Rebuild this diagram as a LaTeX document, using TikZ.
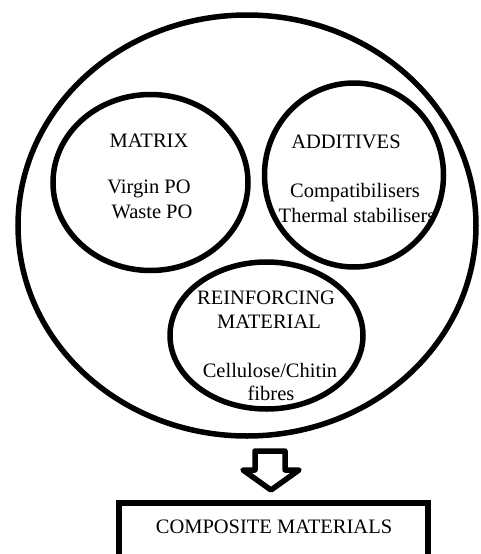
\documentclass[tikz,border=0pt]{standalone}
\usepackage{fontspec}
\setmainfont{Liberation Serif}
\usetikzlibrary{shapes.geometric}
\begin{document}
\begin{tikzpicture}[x=1pt,y=-1pt,
  ring/.style={draw, ellipse, line width=5.5pt, inner sep=0pt},
  lbl/.style={anchor=base, inner sep=0pt, font=\fontsize{20.5}{24}\selectfont},
  boxframe/.style={draw, line width=5.5pt, inner sep=0pt}]
\useasboundingbox (0,0) rectangle (480,554);
\clip (0,0) rectangle (480,554);
% outer ring
\node[ring, minimum width=458pt, minimum height=421pt] (outer) at (247,225.5) {};
% inner rings
\node[ring, minimum width=195pt, minimum height=176pt] (matrix) at (150.5,182.5) {};
\node[ring, minimum width=179pt, minimum height=184pt] (additives) at (354,175) {};
\node[ring, minimum width=193pt, minimum height=147pt] (reinf) at (266.5,335.5) {};
% labels
\node[lbl] (mt) at (149,147) {MATRIX};
\node[lbl] (m1) at (149,193) {Virgin PO};
\node[lbl] (m2) at (152,218) {Waste PO};
\node[lbl] (at) at (346,148) {ADDITIVES};
\node[lbl] (a1) at (355,197) {Compatibilisers};
\node[lbl] (a2) at (357,222) {Thermal stabilisers};
\node[lbl] (rt1) at (266,304) {REINFORCING};
\node[lbl] (rt2) at (269,328) {MATERIAL};
\node[lbl] (r1) at (270,377) {Cellulose/Chitin};
\node[lbl] (r2) at (271,400) {fibres};
% block arrow
\coordinate (arrtop) at (269.5,451);
\coordinate (arrtip) at (271,490);
\draw[line width=5.5pt, line join=round]
  (255,451) -- (285,451) -- (285,470) -- (299,470) -- (arrtip) -- (243,470) -- (255,470) -- cycle;
% result box
\node[boxframe, minimum width=309pt, minimum height=100pt] (box) at (273.5,553) {};
\node[lbl] (ct) at (274,533) {COMPOSITE MATERIALS};
\end{tikzpicture}
\end{document}
